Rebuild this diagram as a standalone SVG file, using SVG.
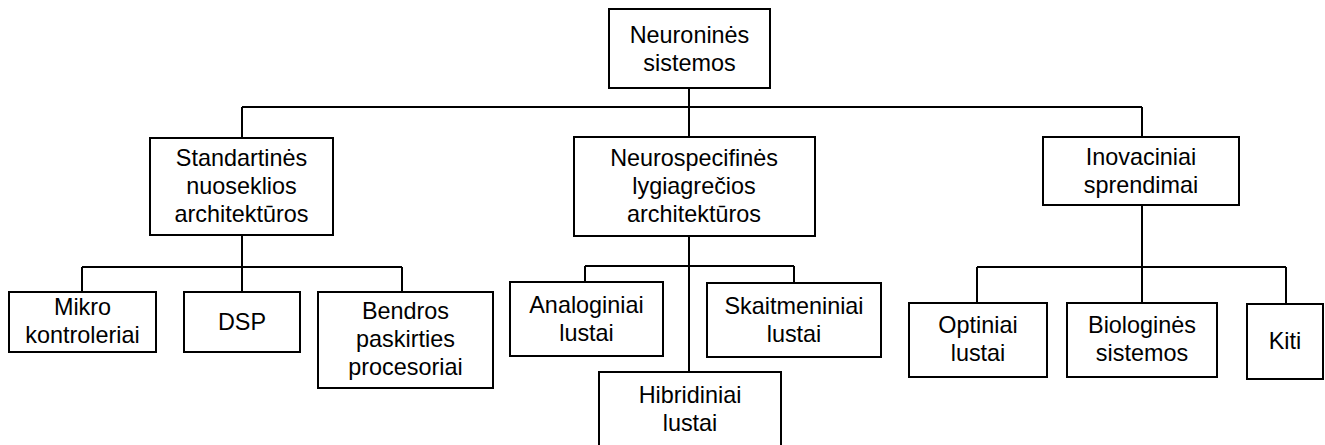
<svg xmlns="http://www.w3.org/2000/svg" width="1325" height="445" viewBox="0 0 1325 445">
  <style>
    .box { fill: #ffffff; stroke: #000000; stroke-width: 2; }
    .link { fill: none; stroke: #000000; stroke-width: 2; }
    text { font-family: "Liberation Sans", Arial, sans-serif; font-size: 23.4px; fill: #000000; text-anchor: middle; }
  </style>
  <rect width="1325" height="445" fill="#ffffff"/>

  <!-- tree connectors -->
  <g id="connectors">
    <path class="link" d="M689 88 V107 M242 107 H1142 M242 107 V138 M689 107 V137 M1142 107 V137"/>
    <path class="link" d="M242 235 V267 M82 267 H402 M82 267 V292 M242 267 V292 M402 267 V292"/>
    <path class="link" d="M689 236 V372 M585 266 H794 M585 266 V282 M794 266 V283"/>
    <path class="link" d="M1142 205 V267 M977 267 H1286 M977 267 V303 M1142 267 V303 M1286 267 V304"/>
  </g>

  <g id="neuronines-sistemos">
    <rect class="box" x="609" y="9" width="161" height="79"/>
    <text x="689.5" y="43">Neuroninės</text>
    <text x="689.5" y="71">sistemos</text>
  </g>

  <g id="standartines">
    <rect class="box" x="150" y="138" width="183" height="97"/>
    <text x="241.5" y="166">Standartinės</text>
    <text x="241.5" y="194">nuoseklios</text>
    <text x="241.5" y="222">architektūros</text>
  </g>

  <g id="neurospecifines">
    <rect class="box" x="574" y="137" width="241" height="99"/>
    <text x="694" y="166">Neurospecifinės</text>
    <text x="694" y="194">lygiagrečios</text>
    <text x="694" y="222">architektūros</text>
  </g>

  <g id="inovaciniai">
    <rect class="box" x="1043" y="137" width="196" height="68"/>
    <text x="1141" y="165">Inovaciniai</text>
    <text x="1141" y="193">sprendimai</text>
  </g>

  <g id="mikrokontroleriai">
    <rect class="box" x="9" y="292" width="147" height="60"/>
    <text x="82.5" y="315">Mikro</text>
    <text x="82.5" y="343">kontroleriai</text>
  </g>

  <g id="dsp">
    <rect class="box" x="184" y="292" width="116" height="60"/>
    <text x="242" y="330">DSP</text>
  </g>

  <g id="bendros-paskirties">
    <rect class="box" x="318" y="292" width="175" height="96"/>
    <text x="405.5" y="319">Bendros</text>
    <text x="405.5" y="347">paskirties</text>
    <text x="405.5" y="375">procesoriai</text>
  </g>

  <g id="analoginiai">
    <rect class="box" x="510" y="282" width="153" height="74"/>
    <text x="586.5" y="313">Analoginiai</text>
    <text x="586.5" y="341">lustai</text>
  </g>

  <g id="skaitmeniniai">
    <rect class="box" x="707" y="283" width="174" height="74"/>
    <text x="794" y="314">Skaitmeniniai</text>
    <text x="794" y="342">lustai</text>
  </g>

  <g id="hibridiniai">
    <rect class="box" x="599" y="372" width="182" height="80"/>
    <text x="690" y="403">Hibridiniai</text>
    <text x="690" y="431">lustai</text>
  </g>

  <g id="optiniai">
    <rect class="box" x="909" y="303" width="138" height="74"/>
    <text x="978" y="333">Optiniai</text>
    <text x="978" y="361">lustai</text>
  </g>

  <g id="biologines">
    <rect class="box" x="1067" y="303" width="150" height="74"/>
    <text x="1142" y="333">Biologinės</text>
    <text x="1142" y="361">sistemos</text>
  </g>

  <g id="kiti">
    <rect class="box" x="1247" y="304" width="76" height="75"/>
    <text x="1285" y="349">Kiti</text>
  </g>
</svg>
